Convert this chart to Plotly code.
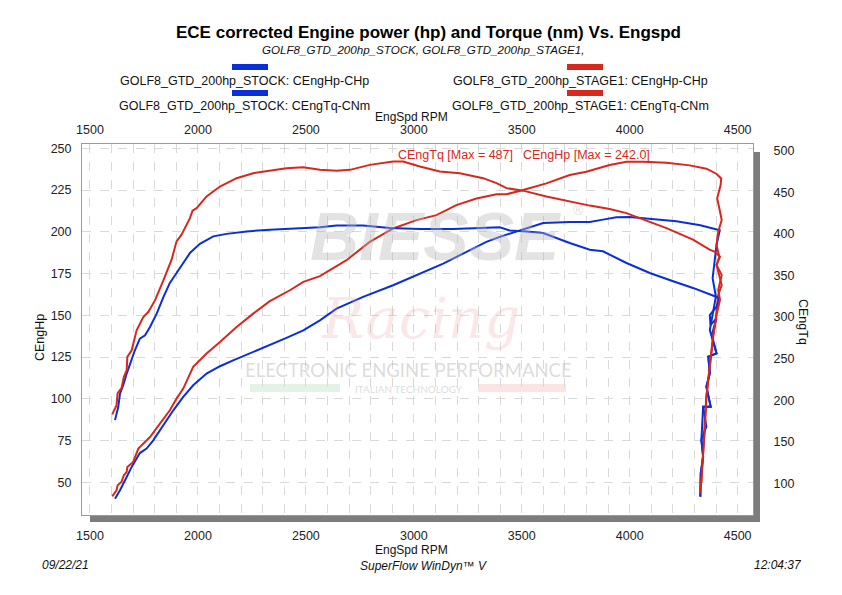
import plotly.graph_objects as go

# ---------------- data ----------------
stock_hp_rpm = [1616, 1639, 1670, 1693, 1731, 1762, 1793, 1840, 1886, 1932, 1978, 2040, 2102, 2163,
                2256, 2333, 2410, 2488, 2565, 2642, 2765, 2904, 3028, 3136, 3244, 3336, 3398, 3475,
                3552, 3599, 3722, 3815, 3876, 3938, 4000, 4093, 4216, 4327, 4417,
                4402, 4387, 4384, 4399, 4371, 4402, 4364, 4371, 4355, 4375, 4340, 4332, 4340, 4329, 4327]
stock_hp = [40.2, 45.2, 53.2, 59.2, 67.5, 70.2, 75.1, 84.1, 93.1, 101.1, 108.1, 115.1, 119.5, 123.0,
            128.0, 132.5, 136.5, 141.0, 147.0, 154.0, 161.0, 168.0, 175.0, 181.0, 188.0, 194.0, 197.0, 200.0,
            203.3, 205.3, 205.9, 205.9, 207.3, 208.7, 208.9, 207.9, 206.3, 203.9, 200.9,
            192.1, 178.1, 172.2, 161.1, 141.2, 127.2, 125.2, 115.3, 107.3, 95.3, 95.3, 75.3, 65.3, 55.4, 41.4]

stock_tq_rpm = [1616, 1631, 1639, 1654, 1670, 1685, 1708, 1731, 1755, 1778, 1809, 1840, 1870, 1901,
                1932, 1963, 2009, 2071, 2133, 2225, 2333, 2441, 2565, 2642, 2765, 2889, 3028, 3182,
                3321, 3398, 3444, 3522, 3599, 3661, 3722, 3815, 3876, 3985, 4093, 4201, 4293, 4394, 4415,
                4402, 4371, 4374, 4402, 4380, 4402, 4364, 4371, 4355, 4375, 4340, 4355, 4332, 4340, 4329, 4327]
stock_tq = [176, 192, 208, 218, 232, 244, 260, 274, 278, 288, 304, 324, 341, 353,
            365, 377, 388, 397, 400, 403, 405, 406, 408, 410, 410, 407, 406, 406,
            407, 408, 404, 403, 401, 395, 389, 381, 379, 365, 353, 343, 335, 325, 322.5,
            312.4, 302.4, 290.4, 298.4, 278.4, 256.3, 252.3, 232.3, 216.2, 192.1, 192.1, 168.1, 152.1, 132.0, 112.0, 83.9]

stage1_hp_rpm = [1603, 1623, 1628, 1646, 1657, 1670, 1673, 1700, 1724, 1755, 1778, 1824, 1870, 1901,
                 1932, 1978, 2040, 2102, 2179, 2256, 2333, 2426, 2488, 2565, 2688, 2796, 2904, 3012,
                 3105, 3197, 3290, 3383, 3429, 3506, 3614, 3722, 3799, 3907, 3985, 4062, 4170, 4278,
                 4355, 4401, 4424,
                 4421, 4405, 4415, 4426, 4410, 4402, 4415, 4402, 4426, 4410, 4395, 4387, 4380, 4364,
                 4355, 4348, 4340, 4332]
stage1_hp = [41.6, 45.2, 48.2, 50.2, 54.2, 56.2, 59.2, 62.2, 70.2, 74.1, 77.1, 85.1, 93.1, 100.1,
             106.1, 119.1, 127.1, 134.0, 143.0, 151.0, 158.5, 165.0, 170.0, 173.5, 183.0, 194.0, 202.0, 207.0,
             210.0, 216.0, 220.0, 222.5, 222.5, 225.0, 229.0, 234.0, 236.0, 240.0, 242.0, 242.0, 241.4, 239.8,
             237.8, 234.8, 232.0,
             228.0, 220.1, 214.1, 207.1, 200.1, 192.1, 185.1, 180.1, 168.1, 162.2, 144.2, 138.2, 129.2, 111.3,
             101.3, 87.3, 69.4, 49.4]

stage1_tq_rpm = [1603, 1623, 1628, 1646, 1657, 1670, 1673, 1693, 1716, 1747, 1770, 1801, 1840, 1878,
                 1901, 1924, 1963, 1975, 1994, 2040, 2102, 2179, 2256, 2333, 2410, 2488, 2565, 2642,
                 2704, 2796, 2904, 2950, 3028, 3120, 3213, 3321, 3383, 3429, 3506, 3614, 3722, 3815,
                 3907, 3985, 4015, 4170, 4293, 4370, 4395, 4418,
                 4402, 4426, 4410, 4418, 4402, 4387, 4372, 4364, 4355, 4348, 4340, 4332, 4327]
stage1_tq = [183, 194, 208.5, 214.5, 228, 236, 252, 260, 284, 300, 306, 320, 344, 369,
             391, 399, 419, 428, 431, 445, 457, 467, 473, 476, 479, 480, 477, 476,
             477, 483, 487, 487, 481, 475, 473, 467, 461, 455, 452, 445, 439, 434,
             430, 425, 422, 407, 393, 381, 378.5, 372.5,
             362.5, 350.5, 332.5, 320.5, 302.4, 278.4, 244.3, 224.2, 204.1, 164.1, 132.0, 100.0, 88.3]

x_ticks = [1500, 2000, 2500, 3000, 3500, 4000, 4500]
hp_ticks = [50, 75, 100, 125, 150, 175, 200, 225, 250]
tq_ticks = [100, 150, 200, 250, 300, 350, 400, 450, 500]

BLUE = "#0b2fd6"
RED = "#d6281c"
FONT = "Liberation Sans, Arial, sans-serif"

# ---------------- layout geometry (pixels) ----------------
W, H = 842, 595
PL, PR, PT, PB = 82, 753, 144, 515


def px(x):
    return (x - PL) / (PR - PL)


def py(y):
    return (PB - y) / (PB - PT)


fig = go.Figure()
fig.add_trace(go.Scatter(x=stock_hp_rpm, y=stock_hp, mode="lines", line=dict(color=BLUE, width=2),
                         name="GOLF8_GTD_200hp_STOCK: CEngHp-CHp", yaxis="y"))
fig.add_trace(go.Scatter(x=stock_tq_rpm, y=stock_tq, mode="lines", line=dict(color=BLUE, width=2),
                         name="GOLF8_GTD_200hp_STOCK: CEngTq-CNm", yaxis="y2"))
fig.add_trace(go.Scatter(x=stage1_hp_rpm, y=stage1_hp, mode="lines", line=dict(color=RED, width=2),
                         name="GOLF8_GTD_200hp_STAGE1: CEngHp-CHp", yaxis="y"))
fig.add_trace(go.Scatter(x=stage1_tq_rpm, y=stage1_tq, mode="lines", line=dict(color=RED, width=2),
                         name="GOLF8_GTD_200hp_STAGE1: CEngTq-CNm", yaxis="y2"))
# invisible trace to anchor the top x axis
fig.add_trace(go.Scatter(x=[x_ticks[0]], y=[hp_ticks[0]], xaxis="x2", yaxis="y", mode="markers",
                         marker=dict(opacity=0), hoverinfo="skip", showlegend=False))

grid = "#d9d9d9"
tickfont = dict(family=FONT, size=12.5, color="#222")

fig.update_layout(
    width=W, height=H,
    margin=dict(l=PL, r=W - PR, t=PT, b=H - PB, pad=0),
    paper_bgcolor="white", plot_bgcolor="white",
    showlegend=False,
    xaxis=dict(range=[1463, 4571], tickvals=x_ticks, ticks="outside", ticklen=9,
               tickcolor="rgba(0,0,0,0)", tickfont=tickfont,
               showgrid=True, gridcolor=grid, griddash="dash", gridwidth=1,
               minor=dict(dtick=100, tick0=1500, showgrid=True, gridcolor=grid, griddash="dash", gridwidth=1),
               showline=True, linecolor="#9a9a9a", linewidth=1, mirror=True, zeroline=False),
    xaxis2=dict(overlaying="x", side="top", matches="x", tickvals=x_ticks, ticks="outside", ticklen=4,
                tickcolor="rgba(0,0,0,0)", tickfont=tickfont, showgrid=False, zeroline=False, anchor="y"),
    yaxis=dict(range=[30.4, 252.6], tickvals=hp_ticks, ticks="outside", ticklen=7,
               tickcolor="rgba(0,0,0,0)", tickfont=tickfont,
               showgrid=True, gridcolor=grid, griddash="dash", gridwidth=1,
               showline=True, linecolor="#9a9a9a", linewidth=1, mirror=True, zeroline=False),
    yaxis2=dict(range=[61.9, 508.1], overlaying="y", side="right", tickvals=tq_ticks, ticks="outside",
                ticklen=17, tickcolor="rgba(0,0,0,0)", tickfont=tickfont, showgrid=False, zeroline=False),
)

shapes = []
# drop shadow of plot frame
shapes.append(dict(type="rect", xref="paper", yref="paper", x0=px(90), x1=px(760), y0=py(522), y1=py(PB + 0.5),
                   fillcolor="#7d7d7d", line=dict(width=0), layer="below"))
shapes.append(dict(type="rect", xref="paper", yref="paper", x0=px(PR + 0.5), x1=px(760), y0=py(522), y1=py(152),
                   fillcolor="#7d7d7d", line=dict(width=0), layer="below"))
# legend swatches
for (x0, y0, c) in [(232, 64, BLUE), (232, 90, BLUE), (567, 64, RED), (567, 90, RED)]:
    shapes.append(dict(type="rect", xref="paper", yref="paper", x0=px(x0), x1=px(x0 + 36), y0=py(y0 + 6),
                       y1=py(y0), fillcolor=c, line=dict(width=0)))
# watermark bars
shapes.append(dict(type="rect", xref="paper", yref="paper", x0=px(250), x1=px(340), y0=py(392), y1=py(384),
                   fillcolor="rgba(205,232,210,0.55)", line=dict(width=0), layer="below"))
shapes.append(dict(type="rect", xref="paper", yref="paper", x0=px(478), x1=px(566), y0=py(392), y1=py(384),
                   fillcolor="rgba(246,210,210,0.6)", line=dict(width=0), layer="below"))
fig.update_layout(shapes=shapes)

ann = []


def add(text, x, y, size=12.5, color="#111", xanchor="center", bold=False, italic=False, angle=0,
        family=FONT, yanchor="middle"):
    t = text
    if bold:
        t = "<b>" + t + "</b>"
    if italic:
        t = "<i>" + t + "</i>"
    ann.append(dict(text=t, x=px(x), y=py(y), xref="paper", yref="paper", showarrow=False,
                    xanchor=xanchor, yanchor=yanchor, textangle=angle,
                    font=dict(family=family, size=size, color=color)))


# watermark
add("BIESSE", 436, 236, size=68, color="rgba(185,185,185,0.40)", bold=True, italic=True)
add("®", 578, 210, size=14, color="rgba(185,185,185,0.5)")
add("Racing", 420, 318, size=56, color="rgba(235,160,160,0.24)", italic=True,
    family="DejaVu Serif, serif")
add("ELECTRONIC ENGINE PERFORMANCE", 408, 370, size=18.5, color="rgba(175,175,175,0.45)",
    family="Lato, sans-serif")
add("ITALIAN TECHNOLOGY", 409, 389, size=10, color="rgba(175,175,175,0.45)", family="Lato, sans-serif")

# titles
add("ECE corrected Engine power (hp) and Torque (nm) Vs. Engspd", 428, 32, size=17, bold=True, color="#000")
add("GOLF8_GTD_200hp_STOCK, GOLF8_GTD_200hp_STAGE1,", 423, 49.5, size=11.6, italic=True, color="#111")
# legend labels
add("GOLF8_GTD_200hp_STOCK: CEngHp-CHp", 244, 81)
add("GOLF8_GTD_200hp_STOCK: CEngTq-CNm", 244, 106)
add("GOLF8_GTD_200hp_STAGE1: CEngHp-CHp", 580, 81)
add("GOLF8_GTD_200hp_STAGE1: CEngTq-CNm", 580, 106)
# axis titles
add("EngSpd RPM", 411, 117, size=12)
add("EngSpd RPM", 411, 550, size=12)
add("CEngHp", 40, 338, angle=-90)
add("CEngTq", 803, 322, angle=90)
# max annotation
add("CEngTq [Max = 487]", 396, 155, color=RED, xanchor="left")
add("CEngHp [Max = 242.0]", 521, 155, color=RED, xanchor="left")
# footer
add("09/22/21", 40, 565, size=12, italic=True, xanchor="left")
add("SuperFlow WinDyn™ V", 423, 566, size=12, italic=True)
add("12:04:37", 804, 565, size=12, italic=True, xanchor="right")

fig.update_layout(annotations=ann)
fig.write_html("out.html", config={"displayModeBar": False})

# remove the browser's default page margin so the figure sits at the window origin
with open("out.html", "r", encoding="utf-8") as f:
    html = f.read()
html = html.replace("<head>", "<head><style>html,body{margin:0;padding:0;}</style>", 1)
with open("out.html", "w", encoding="utf-8") as f:
    f.write(html)
